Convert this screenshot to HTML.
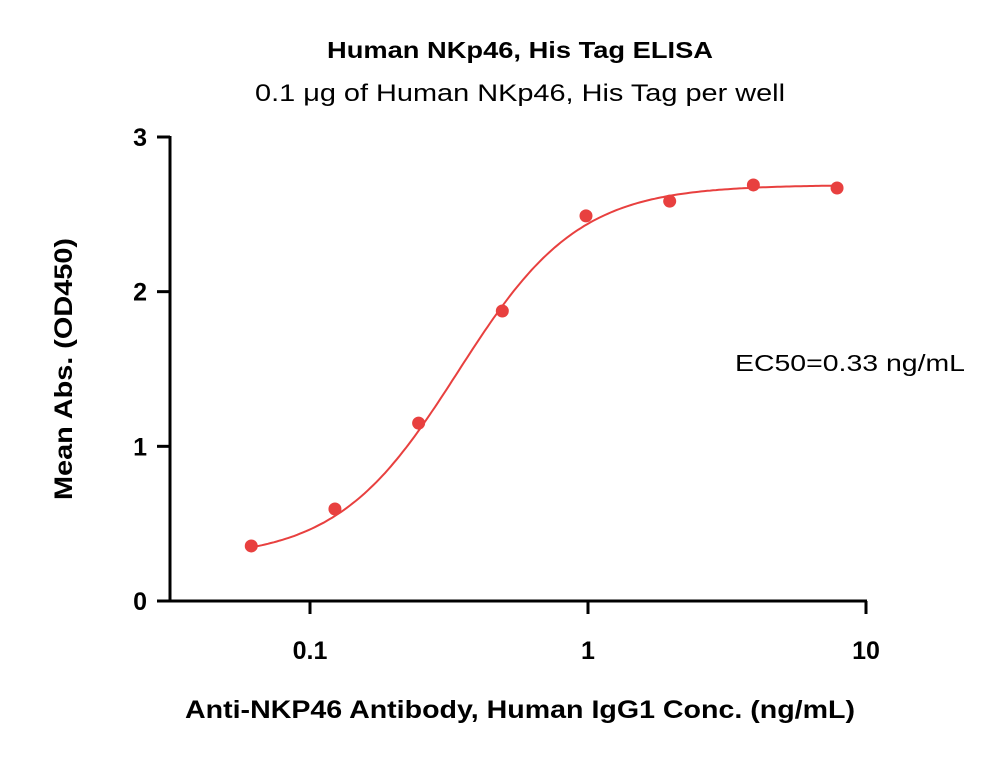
<!DOCTYPE html>
<html><head><meta charset="utf-8"><style>
body{margin:0;background:#fff;}
svg text{font-family:"Liberation Sans",sans-serif;}
</style></head><body>
<svg width="1000" height="759" xmlns="http://www.w3.org/2000/svg">
<text x="520" y="58" text-anchor="middle" font-size="23" font-weight="bold" textLength="386" lengthAdjust="spacingAndGlyphs">Human NKp46, His Tag ELISA</text>
<text x="520" y="101" text-anchor="middle" font-size="24" textLength="530" lengthAdjust="spacingAndGlyphs">0.1 μg of Human NKp46, His Tag per well</text>
<text x="520" y="718" text-anchor="middle" font-size="25" font-weight="bold" textLength="670" lengthAdjust="spacingAndGlyphs">Anti-NKP46 Antibody, Human IgG1 Conc. (ng/mL)</text>
<text transform="translate(72,369) rotate(-90)" text-anchor="middle" font-size="25" font-weight="bold" textLength="262" lengthAdjust="spacingAndGlyphs">Mean Abs. (OD450)</text>
<text x="850" y="371" text-anchor="middle" font-size="23" textLength="230" lengthAdjust="spacingAndGlyphs">EC50=0.33 ng/mL</text>
<g id="axes"></g>
<g id="marks"></g>
</svg>
<script>
const concs=[0.0625,0.125,0.25,0.5,1,2,4,8];
const absValues=[0.356,0.595,1.15,1.875,2.49,2.585,2.69,2.67];
const yTicks=[0,1,2,3];
const xTicks=[0.1,1,10];
const xTickLabels=["0.1","1","10"];
const fitBottom=0.27, fitTop=2.69, fitEC50=0.34, fitHill=2.0;
const NS="http://www.w3.org/2000/svg";
function xs(v){return 588+Math.log10(v)*278;}
function ys(v){return 601-v*154.67;}
function mk(t,a,p){const e=document.createElementNS(NS,t);for(const k in a)e.setAttribute(k,a[k]);p.appendChild(e);return e;}
const ax=document.getElementById('axes'),mg=document.getElementById('marks');
const yl=mk('line',{x1:170,y1:ys(3)-1,x2:170,y2:602,stroke:'#000','stroke-width':3},ax);


const xl=mk('line',{x1:169,y1:601,x2:xs(10)+1,y2:601,stroke:'#000','stroke-width':3},ax);


yTicks.forEach(v=>{
 const l=mk('line',{x1:157,y1:ys(v),x2:170,y2:ys(v),stroke:'#000','stroke-width':3},ax);
 
 
 const t=mk('text',{x:147,y:ys(v)+9,'text-anchor':'end','font-size':25,'font-weight':'bold'},ax);
 t.textContent=v;
 
 
});
xTicks.forEach((v,i)=>{
 const l=mk('line',{x1:xs(v),y1:601,x2:xs(v),y2:614,stroke:'#000','stroke-width':3},ax);
 
 
 const t=mk('text',{x:xs(v),y:659,'text-anchor':'middle','font-size':25,'font-weight':'bold'},ax);
 t.textContent=xTickLabels[i];
 
 
});
let d='';
const lo=Math.log10(concs[0]),hi=Math.log10(concs[concs.length-1]);
for(let i=0;i<=200;i++){const lx=lo+(hi-lo)*i/200;const c=Math.pow(10,lx);
 const y=fitBottom+(fitTop-fitBottom)/(1+Math.pow(fitEC50/c,fitHill));
 d+=(i?'L':'M')+xs(c).toFixed(1)+','+ys(y).toFixed(1);}
const p=mk('path',{d:d,fill:'none',stroke:'#e8403f','stroke-width':2},mg);


concs.forEach((c,i)=>{
 const e=mk('circle',{cx:xs(c)-2,cy:ys(absValues[i]),r:6.5,fill:'#e8403f'},mg);
 
 
});
</script>
</body></html>
